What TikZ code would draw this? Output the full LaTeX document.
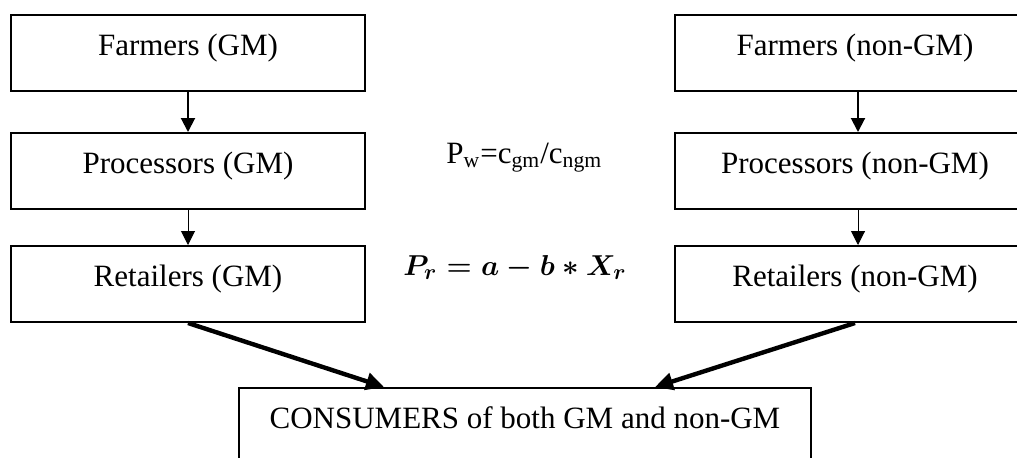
\documentclass[tikz,border=0pt]{standalone}
\usepackage{fontspec}
\setmainfont{Liberation Serif}
\usetikzlibrary{arrows.meta}
\begin{document}
\begin{tikzpicture}[x=0.5pt,y=-0.5pt,
  txt/.style={font=\fontsize{15.5}{18}\selectfont},
  mathtxt/.style={font=\fontsize{15.5}{18}\selectfont\boldmath},
  box/.style={txt,draw,line width=1pt,rectangle,inner sep=0pt,anchor=north west,
    minimum height=38pt,text height=20pt,text depth=18pt},
  leftbox/.style={box,minimum width=177pt},
  rightbox/.style={box,minimum width=180pt},
  arrA/.style={line width=1pt,-{Triangle[width=7pt,length=7pt]}},
  arrB/.style={line width=0.5pt,-{Triangle[width=7pt,length=7pt]}},
  arrC/.style={line width=2.2pt,-{Triangle[width=8.5pt,length=9pt]}}]
\useasboundingbox (0,0) rectangle (1017,457);
% left column
\node[leftbox] (f1) at (10,14) {Farmers (GM)};
\node[leftbox] (p1) at (10,132) {Processors (GM)};
\node[leftbox] (r1) at (10,245) {Retailers (GM)};
% right column
\node[rightbox] (f2) at (674,14) {Farmers (non-GM)};
\node[rightbox] (p2) at (674,132) {Processors (non-GM)};
\node[rightbox] (r2) at (674,245) {Retailers (non-GM)};
% consumers
\node[box,minimum width=286pt] (c) at (238,387) {CONSUMERS of both GM and non-GM};
% formulas
\node[txt,anchor=base west,inner sep=0pt] (pw) at (446,163) {P\textsubscript{w}=c\textsubscript{gm}/c\textsubscript{ngm}};
\node[mathtxt,anchor=base west,inner sep=0pt] (pr) at (403,275) {$P_r = a - b \ast X_r$};
% arrows
\draw[arrA] (f1.south) -- (p1.north);
\draw[arrB] (p1.south) -- (r1.north);
\draw[arrA] ([xshift=1.5pt]f2.south) -- ([xshift=1.5pt]p2.north);
\draw[arrB] ([xshift=1.5pt]p2.south) -- ([xshift=1.5pt]r2.north);
\draw[arrC] (r1.south) -- ([xshift=73pt]c.north west);
\draw[arrC] (r2.south) -- ([xshift=208.5pt]c.north west);
\end{tikzpicture}
\end{document}
